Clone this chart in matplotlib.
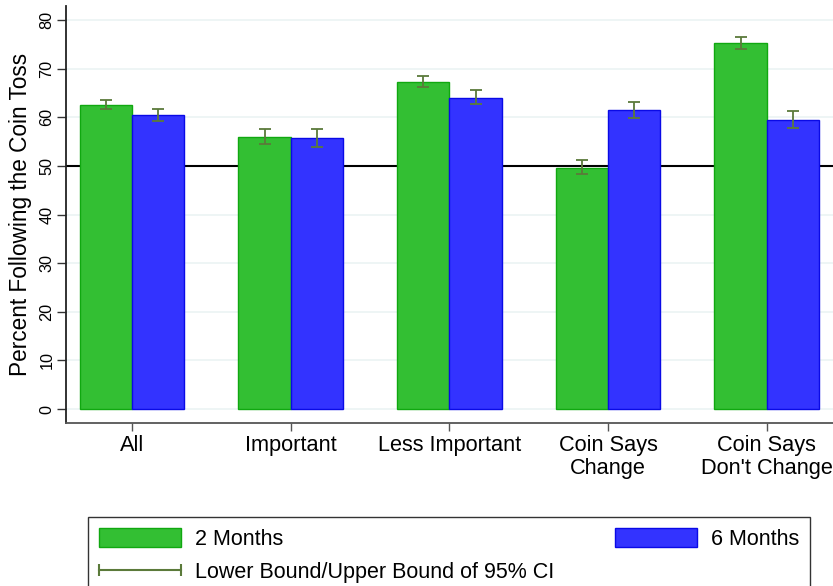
import matplotlib
matplotlib.use("Agg")
import matplotlib.pyplot as plt
import numpy as np
from matplotlib.patches import Patch
from matplotlib.lines import Line2D
from matplotlib.legend_handler import HandlerLine2D

plt.rcParams['font.family'] = ['Liberation Sans', 'DejaVu Sans']

categories = ['All', 'Important', 'Less Important', 'Coin Says\nChange', "Coin Says\nDon't Change"]
pct_2m = [62.5, 55.95, 67.25, 49.66, 75.26]
lo_2m = [61.7, 54.6, 66.2, 48.43, 74.1]
hi_2m = [63.55, 57.5, 68.6, 51.16, 76.5]
pct_6m = [60.47, 55.74, 63.96, 61.5, 59.44]
lo_6m = [59.3, 53.9, 62.7, 59.79, 57.8]
hi_6m = [61.7, 57.6, 65.7, 63.2, 61.3]

green = '#33bf33'
green_edge = '#10a810'
blue = '#3333ff'
blue_edge = '#0a0ae6'
ci_col = '#5b7a3a'

fig = plt.figure(figsize=(8.33, 5.86), dpi=100)
ax = fig.add_axes([0.0789, 0.2787, 0.9211, 0.7111])
ax.set_axisbelow(True)

x = np.arange(len(categories))
w = 0.33

ax.set_yticks(np.arange(0, 81, 10))
ax.grid(axis='y', color='#eaf2f3', lw=1.1)
ax.axhline(50, color='black', lw=1.5, zorder=1)

ax.bar(x - w / 2, pct_2m, w, color=green, edgecolor=green_edge, lw=1.0, zorder=2)
ax.bar(x + w / 2, pct_6m, w, color=blue, edgecolor=blue_edge, lw=1.0, zorder=2)

p2 = np.array(pct_2m)
p6 = np.array(pct_6m)
ax.errorbar(x - w / 2, p2, yerr=[p2 - np.array(lo_2m), np.array(hi_2m) - p2],
            fmt='none', ecolor=ci_col, elinewidth=1.3, capsize=4, capthick=1.3, zorder=3)
ax.errorbar(x + w / 2, p6, yerr=[p6 - np.array(lo_6m), np.array(hi_6m) - p6],
            fmt='none', ecolor=ci_col, elinewidth=1.3, capsize=4, capthick=1.3, zorder=3)

ax.set_xlim(-0.418, 4.418)
ax.set_ylim(-2.8, 82.9)
ax.set_xticks(x)
ax.set_xticklabels(categories, fontsize=15.7, linespacing=1.1)
ax.tick_params(axis='x', length=6, width=1.0, color='#555555', pad=3)
ax.tick_params(axis='y', length=6.5, width=1.0, color='#333333', pad=1.5, labelsize=11.7)
for lab in ax.get_yticklabels():
    lab.set_rotation(90)
    lab.set_va('center')

for s in ['top', 'right']:
    ax.spines[s].set_visible(False)
ax.spines['left'].set_color('#222222')
ax.spines['left'].set_linewidth(1.3)
ax.spines['bottom'].set_color('#555555')
ax.spines['bottom'].set_linewidth(1.3)

ax.set_ylabel('Percent Following the Coin Toss', fontsize=16.3)
ax.yaxis.set_label_coords(-0.0446, 0.5)

h_2m = Patch(facecolor=green, edgecolor=green_edge, lw=1.0, label='2 Months')
h_6m = Patch(facecolor=blue, edgecolor=blue_edge, lw=1.0, label='6 Months')
h_ci = Line2D([], [], color=ci_col, lw=1.5, marker='|', markersize=8, mew=1.5,
              label='Lower Bound/Upper Bound of 95% CI')
leg = fig.legend(handles=[h_2m, h_ci, h_6m], ncol=2, loc='upper left',
                 bbox_to_anchor=(88 / 833, 1 - 517 / 586, 722 / 833, 0),
                 mode='expand', borderaxespad=0, fontsize=15.5,
                 handlelength=3.81, handleheight=0.98, handletextpad=0.65,
                 borderpad=0.5, labelspacing=0.55, fancybox=False,
                 edgecolor='#333333', framealpha=1,
                 handler_map={h_ci: HandlerLine2D(marker_pad=0, numpoints=2)})
leg.get_frame().set_linewidth(1.0)

fig.savefig('out.png', dpi=100)
